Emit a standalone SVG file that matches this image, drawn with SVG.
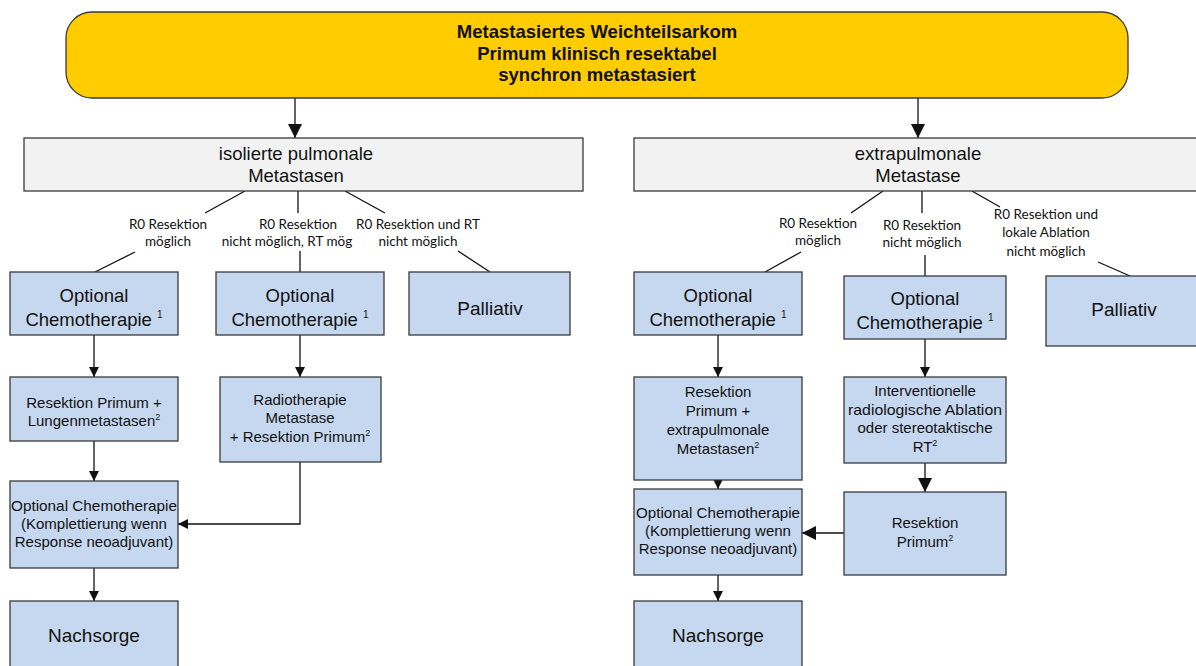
<svg xmlns="http://www.w3.org/2000/svg" width="1196" height="666" viewBox="0 0 1196 666">
<style>
.bx{fill:#C6D8EF;stroke:#3a3a3a;stroke-width:1.3}
.gr{fill:#F2F2F2;stroke:#3a3a3a;stroke-width:1.3}
.t{font-family:"Liberation Sans",Arial,sans-serif;fill:#111;text-anchor:middle}
.big{font-size:18.5px}
.xl{font-size:19px}
.sm{font-size:15px}
.lb{font-family:Lato,"Open Sans",sans-serif;font-size:13.5px;fill:#111;text-anchor:middle}
.ln{stroke:#111;stroke-width:1.3;fill:none}
.sup{font-size:10px}
.sup2{font-size:9px}
</style>
<defs>
<marker id="a" markerUnits="userSpaceOnUse" markerWidth="10" markerHeight="10" refX="10" refY="5" orient="auto"><path d="M0,0 L10,5 L0,10 z" fill="#111"/></marker>
<marker id="b" markerUnits="userSpaceOnUse" markerWidth="14" markerHeight="14" refX="14" refY="7" orient="auto"><path d="M0,0 L14,7 L0,14 z" fill="#111"/></marker>
</defs>
<rect width="1196" height="666" fill="#fff"/>

<g id="connectors">
<line class="ln" x1="295" y1="98" x2="295" y2="138" marker-end="url(#b)"/>
<line class="ln" x1="918" y1="98" x2="918" y2="138" marker-end="url(#b)"/>
<line class="ln" x1="245" y1="191" x2="205" y2="213"/>
<line class="ln" x1="135" y1="252" x2="95" y2="272"/>
<line class="ln" x1="298" y1="191" x2="298" y2="213"/>
<line class="ln" x1="300" y1="251" x2="300" y2="272"/>
<line class="ln" x1="345" y1="191" x2="385" y2="213"/>
<line class="ln" x1="458" y1="251" x2="490" y2="272"/>
<line class="ln" x1="94" y1="335" x2="94" y2="377" marker-end="url(#a)"/>
<line class="ln" x1="300" y1="335" x2="300" y2="377" marker-end="url(#a)"/>
<line class="ln" x1="94" y1="441" x2="94" y2="481" marker-end="url(#a)"/>
<polyline class="ln" points="300,462 300,524 178,524" marker-end="url(#a)"/>
<line class="ln" x1="94" y1="568" x2="94" y2="601" marker-end="url(#a)"/>

<line class="ln" x1="883" y1="191" x2="851" y2="213"/>
<line class="ln" x1="801" y1="252" x2="765" y2="272"/>
<line class="ln" x1="922" y1="191" x2="922" y2="213"/>
<line class="ln" x1="925" y1="255" x2="925" y2="276"/>
<line class="ln" x1="972" y1="191" x2="1000" y2="207"/>
<line class="ln" x1="1098" y1="262" x2="1130" y2="276"/>
<line class="ln" x1="718" y1="335" x2="718" y2="377" marker-end="url(#a)"/>
<line class="ln" x1="925" y1="339" x2="925" y2="377" marker-end="url(#a)"/>
<line class="ln" x1="718" y1="480" x2="718" y2="489" marker-end="url(#a)"/>
<line class="ln" x1="925" y1="463" x2="925" y2="492" marker-end="url(#b)"/>
<line class="ln" x1="844" y1="533" x2="802" y2="533" marker-end="url(#b)"/>
<line class="ln" x1="718" y1="575" x2="718" y2="601" marker-end="url(#a)"/>
</g>

<g id="labels">
<text class="lb" x="168" y="229">R0 Resektion</text>
<text class="lb" x="168" y="246">möglich</text>
<text class="lb" x="298" y="229">R0 Resektion</text>
<text class="lb" x="287" y="246">nicht möglich, RT mög</text>
<text class="lb" x="418" y="229">R0 Resektion und RT</text>
<text class="lb" x="418" y="246">nicht möglich</text>
<text class="lb" x="818" y="228">R0 Resektion</text>
<text class="lb" x="818" y="245">möglich</text>
<text class="lb" x="922" y="230">R0 Resektion</text>
<text class="lb" x="922" y="247">nicht möglich</text>
<text class="lb" x="1046" y="219">R0 Resektion und</text>
<text class="lb" x="1046" y="237">lokale Ablation</text>
<text class="lb" x="1046" y="256">nicht möglich</text>
</g>

<g id="top">
<rect x="66" y="12" width="1062" height="86" rx="26" fill="#FFCC00" stroke="#3a3a3a" stroke-width="1.3"/>
<text class="t" x="597" y="38" font-size="18.5" font-weight="bold">Metastasiertes Weichteilsarkom</text>
<text class="t" x="597" y="60" font-size="18.5" font-weight="bold">Primum klinisch resektabel</text>
<text class="t" x="597" y="81" font-size="18.5" font-weight="bold">synchron metastasiert</text>
</g>

<g id="pulm">
<rect class="gr" x="24" y="138" width="559" height="53"/>
<text class="t big" x="296" y="160">isolierte pulmonale</text>
<text class="t big" x="296" y="182">Metastasen</text>
</g>
<g id="extra">
<rect class="gr" x="634" y="138" width="570" height="53"/>
<text class="t big" x="918" y="160">extrapulmonale</text>
<text class="t big" x="918" y="182">Metastase</text>
</g>

<g id="l1">
<rect class="bx" x="10" y="272" width="168" height="63"/>
<text class="t big" x="94" y="302">Optional</text>
<text class="t big" x="94" y="326">Chemotherapie <tspan class="sup" dy="-8">1</tspan></text>
</g>
<g id="l2">
<rect class="bx" x="216" y="272" width="168" height="63"/>
<text class="t big" x="300" y="302">Optional</text>
<text class="t big" x="300" y="326">Chemotherapie <tspan class="sup" dy="-8">1</tspan></text>
</g>
<g id="l3">
<rect class="bx" x="409" y="272" width="161" height="63"/>
<text class="t xl" x="490" y="315">Palliativ</text>
</g>
<g id="l1b">
<rect class="bx" x="10" y="377" width="168" height="64"/>
<text class="t sm" x="94" y="408">Resektion Primum +</text>
<text class="t sm" x="94" y="426">Lungenmetastasen<tspan class="sup2" dy="-6">2</tspan></text>
</g>
<g id="l2b">
<rect class="bx" x="220" y="377" width="161" height="85"/>
<text class="t sm" x="300" y="405">Radiotherapie</text>
<text class="t sm" x="300" y="423">Metastase</text>
<text class="t sm" x="300" y="442">+ Resektion Primum<tspan class="sup2" dy="-6">2</tspan></text>
</g>
<g id="l1c">
<rect class="bx" x="10" y="481" width="168" height="87"/>
<text class="t sm" x="94" y="511" textLength="166" lengthAdjust="spacingAndGlyphs">Optional Chemotherapie</text>
<text class="t sm" x="94" y="529">(Komplettierung wenn</text>
<text class="t sm" x="94" y="547">Response neoadjuvant)</text>
</g>
<g id="l1d">
<rect class="bx" x="10" y="601" width="168" height="70"/>
<text class="t xl" x="94" y="642">Nachsorge</text>
</g>

<g id="r1">
<rect class="bx" x="634" y="272" width="168" height="63"/>
<text class="t big" x="718" y="302">Optional</text>
<text class="t big" x="718" y="326">Chemotherapie <tspan class="sup" dy="-8">1</tspan></text>
</g>
<g id="r2">
<rect class="bx" x="844" y="276" width="162" height="63"/>
<text class="t big" x="925" y="305">Optional</text>
<text class="t big" x="925" y="329">Chemotherapie <tspan class="sup" dy="-8">1</tspan></text>
</g>
<g id="r3">
<rect class="bx" x="1046" y="276" width="160" height="70"/>
<text class="t xl" x="1124" y="316">Palliativ</text>
</g>
<g id="r1b">
<rect class="bx" x="634" y="377" width="168" height="103"/>
<text class="t sm" x="718" y="397">Resektion</text>
<text class="t sm" x="718" y="416">Primum +</text>
<text class="t sm" x="718" y="435">extrapulmonale</text>
<text class="t sm" x="718" y="454">Metastasen<tspan class="sup2" dy="-6">2</tspan></text>
</g>
<g id="r2b">
<rect class="bx" x="844" y="377" width="162" height="86"/>
<text class="t sm" x="925" y="396">Interventionelle</text>
<text class="t sm" x="925" y="415" textLength="154" lengthAdjust="spacingAndGlyphs">radiologische Ablation</text>
<text class="t sm" x="925" y="433">oder stereotaktische</text>
<text class="t sm" x="925" y="452">RT<tspan class="sup2" dy="-6">2</tspan></text>
</g>
<g id="r1c">
<rect class="bx" x="634" y="489" width="168" height="86"/>
<text class="t sm" x="718" y="518" textLength="164" lengthAdjust="spacingAndGlyphs">Optional Chemotherapie</text>
<text class="t sm" x="718" y="536">(Komplettierung wenn</text>
<text class="t sm" x="718" y="554">Response neoadjuvant)</text>
</g>
<g id="r2c">
<rect class="bx" x="844" y="492" width="162" height="83"/>
<text class="t sm" x="925" y="528">Resektion</text>
<text class="t sm" x="925" y="547">Primum<tspan class="sup2" dy="-6">2</tspan></text>
</g>
<g id="r1d">
<rect class="bx" x="634" y="601" width="168" height="70"/>
<text class="t xl" x="718" y="642">Nachsorge</text>
</g>
</svg>
